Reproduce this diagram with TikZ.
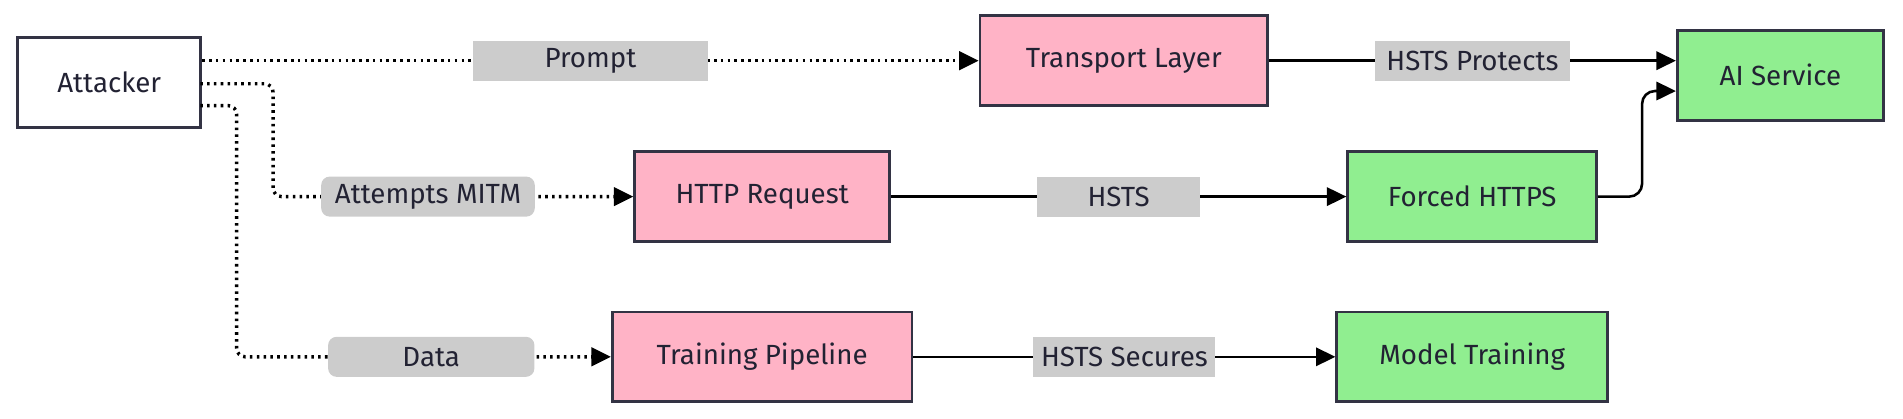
\documentclass[tikz,border=0pt]{standalone}
\usepackage{fontspec}
\setmainfont{Fira Sans}
\usetikzlibrary{positioning, arrows.meta}
\definecolor{edgeink}{HTML}{333344}
\definecolor{pinkfill}{HTML}{FFB3C6}
\definecolor{greenfill}{HTML}{90EE90}
\definecolor{labelgray}{HTML}{CCCCCC}
\definecolor{textink}{HTML}{222233}

\begin{document}
\begin{tikzpicture}[
    x=0.02cm, y=-0.02cm,
    box/.style={draw=edgeink, line width=1.3pt, minimum height=74*0.02cm, text=textink, font=\fontsize{13}{15}\selectfont},
    threat/.style={box, fill=pinkfill},
    safe/.style={box, fill=greenfill},
    tag/.style={fill=labelgray, text=textink, minimum height=33*0.02cm, inner sep=0pt, font=\fontsize{13}{15}\selectfont},
    arrow/.style={-{Triangle[length=3.2mm, width=3mm]}, line width=1.2pt},
    dotted arrow/.style={arrow, dotted, line width=1.6pt}
]
    \useasboundingbox (0,0) rectangle (1568,345);

    % === Nodes ===
    \node[box, fill=white, minimum width=151*0.02cm] (attacker) at (90,68) {Attacker};
    \node[threat, minimum width=237*0.02cm] (transport) at (926,50) {Transport Layer};
    \node[safe, minimum width=170*0.02cm] (ai) at (1467,62) {AI Service};
    \node[threat, minimum width=210*0.02cm] (http) at (628,162) {HTTP Request};
    \node[safe, minimum width=205*0.02cm] (https) at (1213,162) {Forced HTTPS};
    \node[threat, minimum width=247*0.02cm] (pipeline) at (628,294) {Training Pipeline};
    \node[safe, minimum width=223*0.02cm] (training) at (1213,294) {Model Training};

    % === Attacker paths ===
    \draw[dotted arrow] (attacker.east |- transport) -- node[tag, minimum width=193*0.02cm] (prompt) {Prompt} (transport);
    \draw[dotted arrow, rounded corners=4pt] (165,69) -| (225,162) -- node[tag, minimum width=176*0.02cm, pos=0.43] (mitm) {Attempts MITM} (http);
    \draw[dotted arrow, rounded corners=4pt] (165,87) -| (195,294) -- node[tag, minimum width=170*0.02cm, pos=0.52] (data) {Data} (pipeline);

    % === HSTS paths ===
    \draw[arrow] (transport.east) -- node[tag, minimum width=161*0.02cm] (protects) {HSTS Protects} (ai.west |- transport);
    \draw[arrow] (http) -- node[tag, minimum width=134*0.02cm] (hsts) {HSTS} (https);
    \draw[arrow, rounded corners=6pt] (https.east) -| (1353,75) -- (ai.west |- 0,75);
    \draw[arrow] (pipeline) -- node[tag, minimum width=150*0.02cm] (secures) {HSTS Secures} (training);
\end{tikzpicture}
\end{document}
